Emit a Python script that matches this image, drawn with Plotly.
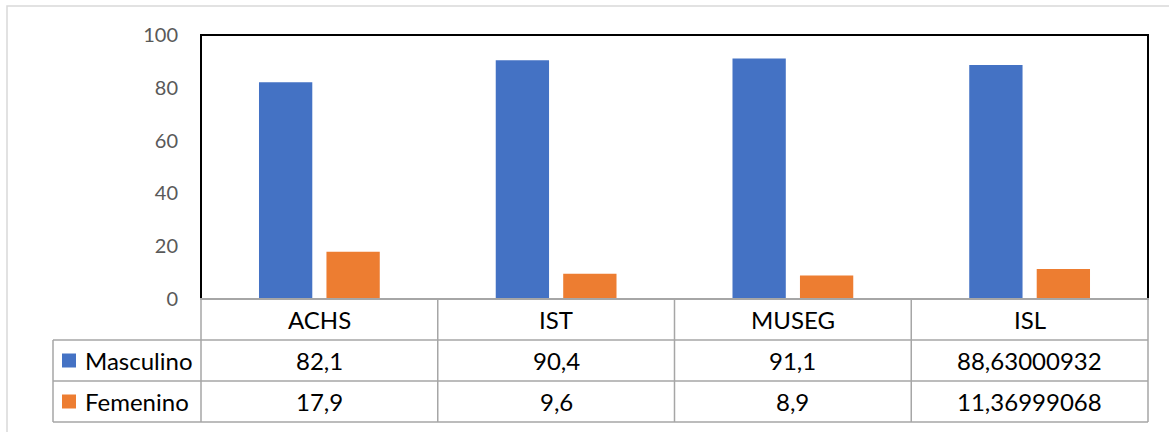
import plotly.graph_objects as go

categories = ["ACHS", "IST", "MUSEG", "ISL"]
masculino = [82.1, 90.4, 91.1, 88.63000932]
femenino = [17.9, 9.6, 8.9, 11.36999068]
series_names = ["Masculino", "Femenino"]
y_ticks = [0, 20, 40, 60, 80, 100]

BLUE = "#4472C4"
ORANGE = "#ED7D31"
W, H = 1169, 432
FONT = "Lato"

def px_x(p):
    return p / W

def px_y(p):
    return 1 - p / H

def fmt(v):
    return str(v).replace(".", ",")

x_left, x_right = 201, 1148
y_top, y_bot = 35, 299
rows = [299, 340, 381, 422]
tbl_left = 53

fig = go.Figure()
fig.add_trace(go.Bar(x=categories, y=masculino, name=series_names[0],
                     marker=dict(color=BLUE, line=dict(width=0))))
fig.add_trace(go.Bar(x=categories, y=femenino, name=series_names[1],
                     marker=dict(color=ORANGE, line=dict(width=0))))

shapes = []
# outer chart border (light gray)
shapes.append(dict(type="rect", xref="paper", yref="paper",
                   x0=px_x(7), x1=px_x(1180), y0=px_y(445), y1=px_y(6),
                   line=dict(color="#D9D9D9", width=1.5), layer="below"))
# plot area border (black)
shapes.append(dict(type="rect", xref="paper", yref="paper",
                   x0=px_x(x_left), x1=px_x(x_right), y0=px_y(y_bot), y1=px_y(y_top),
                   line=dict(color="#000000", width=2), layer="above"))
GRAY = "#A6A6A6"
# table horizontal lines
shapes.append(dict(type="line", xref="paper", yref="paper",
                   x0=px_x(x_left - 1), x1=px_x(x_right + 1), y0=px_y(rows[0]), y1=px_y(rows[0]),
                   line=dict(color=GRAY, width=2), layer="above"))
for r in rows[1:]:
    shapes.append(dict(type="line", xref="paper", yref="paper",
                       x0=px_x(tbl_left), x1=px_x(x_right), y0=px_y(r), y1=px_y(r),
                       line=dict(color=GRAY, width=1.5)))
# table vertical lines
col_w = (x_right - x_left) / len(categories)
for i in range(len(categories) + 1):
    xx = x_left + i * col_w
    shapes.append(dict(type="line", xref="paper", yref="paper",
                       x0=px_x(xx), x1=px_x(xx), y0=px_y(rows[0]), y1=px_y(rows[-1]),
                       line=dict(color=GRAY, width=1.5)))
shapes.append(dict(type="line", xref="paper", yref="paper",
                   x0=px_x(tbl_left), x1=px_x(tbl_left), y0=px_y(rows[1]), y1=px_y(rows[-1]),
                   line=dict(color=GRAY, width=1.5)))
# legend keys
for i, col in enumerate([BLUE, ORANGE]):
    cy = (rows[i + 1] + rows[i + 2]) / 2
    shapes.append(dict(type="rect", xref="paper", yref="paper",
                       x0=px_x(62), x1=px_x(76), y0=px_y(cy + 7), y1=px_y(cy - 7),
                       fillcolor=col, line=dict(width=0)))

annotations = []
txt_font = dict(family=FONT, size=24, color="#000000")
hdr_y = (rows[0] + rows[1]) / 2
for c in categories:
    annotations.append(dict(x=c, xref="x", y=px_y(hdr_y), yref="paper", text=c,
                            showarrow=False, font=txt_font, xanchor="center", yanchor="middle"))
for i, (name, vals) in enumerate([(series_names[0], masculino), (series_names[1], femenino)]):
    cy = (rows[i + 1] + rows[i + 2]) / 2
    annotations.append(dict(x=px_x(83), xref="paper", y=px_y(cy), yref="paper", text=name,
                            showarrow=False, font=txt_font, xanchor="left", yanchor="middle"))
    for c, v in zip(categories, vals):
        annotations.append(dict(x=c, xref="x", y=px_y(cy), yref="paper", text=fmt(v),
                                showarrow=False, font=txt_font, xanchor="center", yanchor="middle"))

fig.update_layout(
    template="none",
    width=W, height=H, autosize=False,
    margin=dict(l=0, r=0, t=0, b=0, pad=0, autoexpand=False),
    paper_bgcolor="#FFFFFF", plot_bgcolor="#FFFFFF",
    showlegend=False,
    barmode="group", bargap=0.43, bargroupgap=0.21,
    shapes=shapes, annotations=annotations,
    xaxis=dict(domain=[px_x(x_left), px_x(x_right)], showticklabels=False, automargin=False,
               showline=False, showgrid=False, zeroline=False, ticks=""),
    yaxis=dict(domain=[px_y(y_bot), px_y(y_top)], range=[0, 100], automargin=False,
               tickvals=y_ticks, ticktext=[str(t) for t in y_ticks],
               showgrid=False, zeroline=False, showline=False, ticks="",
               ticklabelstandoff=22,
               tickfont=dict(family=FONT, size=20, color="#595959")),
)

fig.write_html("out.html")
